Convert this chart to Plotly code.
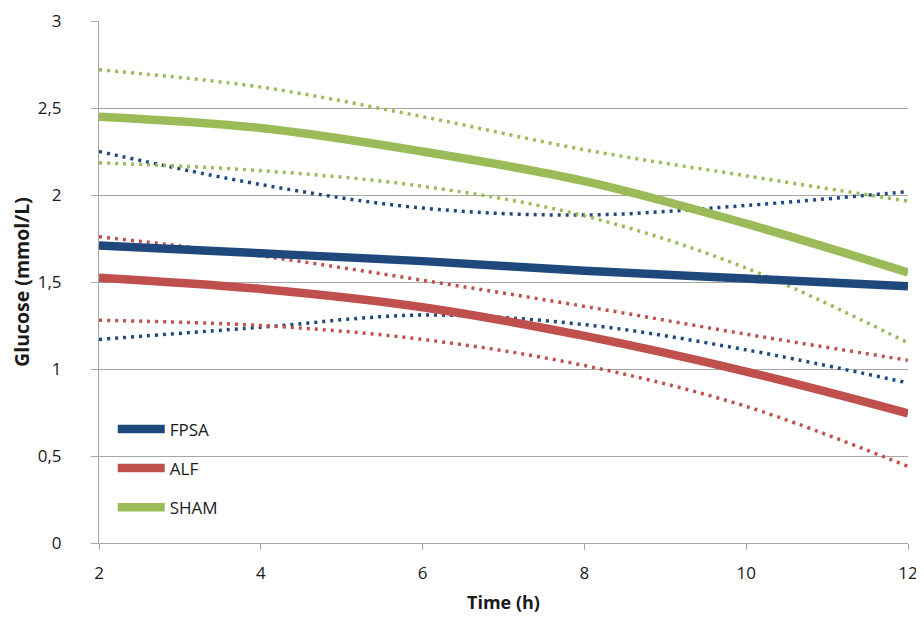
import plotly.graph_objects as go

time_h = [2, 4, 6, 8, 10, 12]

fpsa_mean = [1.71, 1.665, 1.62, 1.565, 1.52, 1.475]
fpsa_upper = [2.25, 2.06, 1.925, 1.885, 1.94, 2.02]
fpsa_lower = [1.17, 1.24, 1.31, 1.255, 1.11, 0.92]

alf_mean = [1.525, 1.46, 1.355, 1.19, 0.985, 0.745]
alf_upper = [1.76, 1.65, 1.51, 1.36, 1.20, 1.05]
alf_lower = [1.28, 1.25, 1.17, 1.02, 0.785, 0.44]

sham_mean = [2.45, 2.385, 2.25, 2.08, 1.835, 1.555]
sham_upper = [2.72, 2.62, 2.45, 2.26, 2.11, 1.965]
sham_lower = [2.185, 2.14, 2.05, 1.88, 1.58, 1.15]

x_ticks = [2, 4, 6, 8, 10, 12]
y_ticks = [0, 0.5, 1, 1.5, 2, 2.5, 3]
y_tick_labels = ["0", "0,5", "1", "1,5", "2", "2,5", "3"]

BLUE = "#1F497D"
RED = "#C0504D"
GREEN = "#9BBB59"
TXT = "#1a1a1a"

fig = go.Figure()

groups = [
    ("FPSA", BLUE, fpsa_mean, fpsa_upper, fpsa_lower),
    ("ALF", RED, alf_mean, alf_upper, alf_lower),
    ("SHAM", GREEN, sham_mean, sham_upper, sham_lower),
]

# dotted confidence bands first
for name, col, m, up, lo in groups:
    for band in (up, lo):
        fig.add_trace(go.Scatter(
            x=time_h, y=band, mode="lines", showlegend=False,
            line=dict(color=col, width=3.5, dash="3px,5px", shape="spline", smoothing=1.0),
            hoverinfo="skip",
        ))

for name, col, m, up, lo in groups:
    fig.add_trace(go.Scatter(
        x=time_h, y=m, mode="lines", name=name, legendgroup=name,
        line=dict(color=col, width=8.5, shape="spline", smoothing=1.0),
    ))

# the page body adds an 8px margin, so the figure is 8px smaller than the window
fig.update_layout(
    width=916, height=612,
    margin=dict(l=91, r=16, t=13, b=77),
    paper_bgcolor="white", plot_bgcolor="white",
    font=dict(family="Open Sans, Liberation Sans, sans-serif", size=17, color=TXT),
    legend=dict(
        x=0.017, y=0.252, xanchor="left", yanchor="top",
        bgcolor="rgba(0,0,0,0)", font=dict(size=17, color=TXT),
        tracegroupgap=14, itemwidth=47,
    ),
    xaxis=dict(
        range=[2, 12], tickvals=x_ticks, ticktext=[str(v) for v in x_ticks],
        showgrid=False, zeroline=False, automargin=False,
        showline=True, linecolor="#A6A6A6", linewidth=1,
        ticks="outside", ticklen=6, tickcolor="#A6A6A6",
        ticklabelstandoff=9,
        title=dict(text="<b>Time (h)</b>", font=dict(size=18), standoff=12),
    ),
    yaxis=dict(
        range=[0, 3], tickvals=y_ticks, ticktext=y_tick_labels,
        showgrid=True, gridcolor="#A6A6A6", gridwidth=1, zeroline=False, automargin=False,
        showline=True, linecolor="#A6A6A6", linewidth=1,
        ticks="outside", ticklen=7, tickcolor="#A6A6A6",
        ticklabelstandoff=26,
        title=dict(text="<b>Glucose (mmol/L)</b>", font=dict(size=19.5), standoff=14),
    ),
)

fig.write_html("out.html")
